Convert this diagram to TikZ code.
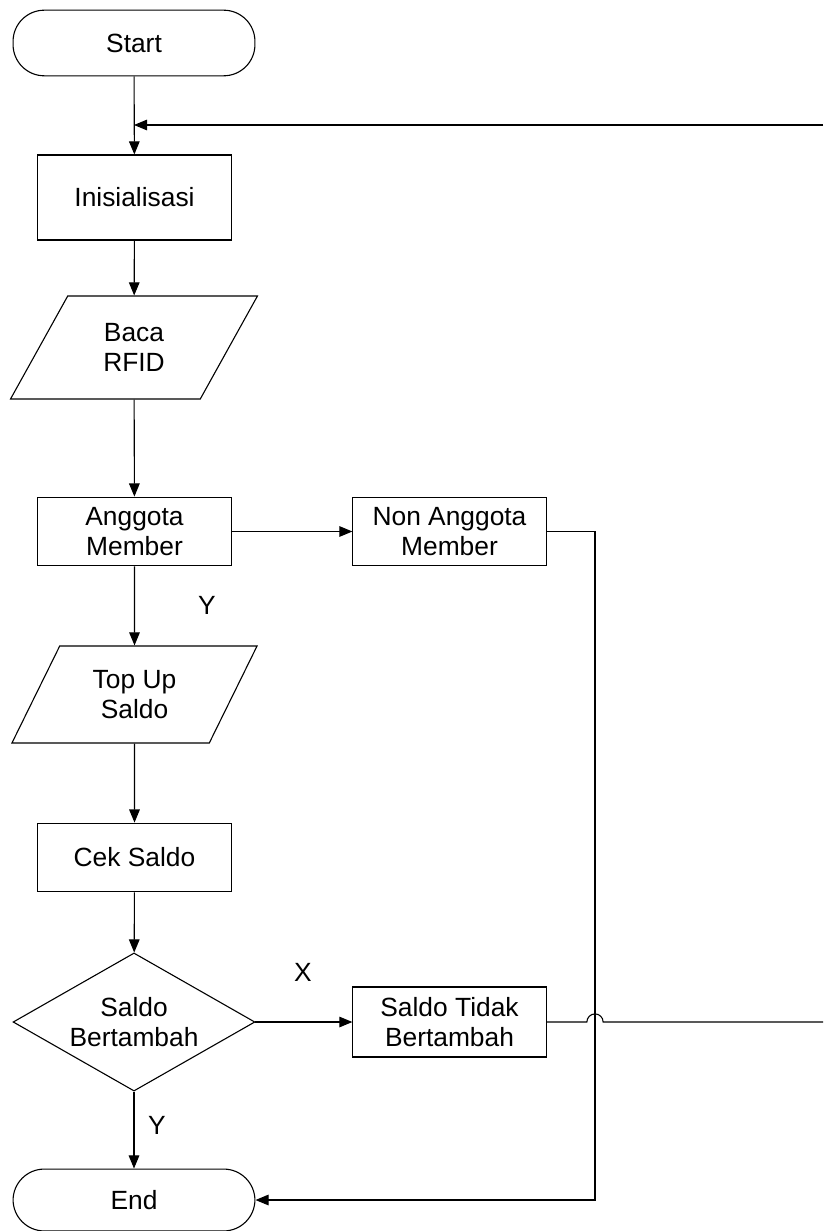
\documentclass[tikz,border=0pt]{standalone}
\usepackage{fontspec}
\setmainfont{Liberation Sans}
\usetikzlibrary{arrows.meta,shapes.geometric}

\begin{document}
\begin{tikzpicture}[
  font=\fontsize{12}{14}\selectfont,
  line width=0.5pt,
  term/.style={draw, rounded corners=0.5cm, minimum width=3.87cm, minimum height=1.05cm, align=center},
  proc/.style={draw, minimum width=3.09cm, minimum height=1.10cm, align=center},
  io/.style={draw, trapezium, trapezium left angle=61.5, trapezium right angle=118.5, trapezium stretches=true, inner sep=0pt, align=center},
  dec/.style={draw, diamond, aspect=1.75, inner sep=0pt, minimum width=3.87cm, minimum height=2.21cm, align=center},
  flow/.style={-{Triangle[length=0.21cm,width=0.17cm]}},
  lab/.style={inner sep=0pt}
]
\useasboundingbox (0,0) rectangle (13.168,-19.696);

% Main column.
\node[term] (start) at (2.144,-0.688) {Start};
\node[proc, minimum height=1.36cm] (init) at (2.152,-3.16) {Inisialisasi};
\node[io, minimum width=3.968cm, minimum height=1.648cm] (baca) at (2.144,-5.56) {Baca\\RFID};
\node[proc] (anggota) at (2.152,-8.504) {Anggota\\Member};
\node[io, minimum width=3.936cm, minimum height=1.552cm] (topup) at (2.152,-11.112) {Top Up\\Saldo};
\node[proc] (cek) at (2.152,-13.72) {Cek Saldo};
\node[dec] (cekdec) at (2.144,-16.352) {Saldo\\Bertambah};
\node[term, minimum height=0.99cm] (end) at (2.144,-19.2) {End};

% Side boxes.
\node[proc] (nonang) at (7.192,-8.504) {Non Anggota\\Member};
\node[proc, minimum height=1.12cm] (tidak) at (7.192,-16.352) {Saldo Tidak\\Bertambah};

% Labels.
\node[lab] (ylab1) at (3.312,-9.68) {Y};
\node[lab] (xlab) at (4.848,-15.552) {X};
\node[lab] (ylab2) at (2.512,-18.0) {Y};

% Loop points.
\coordinate (loopin) at (13.168,-2.0);
\coordinate (loopjoin) at (2.144,-2.0);
\coordinate (corner) at (9.52,-8.504);
\coordinate (hopl) at (9.39,-16.352);
\coordinate (loopout) at (13.168,-16.352);

\draw[flow] (start) -- (init);
\draw[flow] (loopin) -- (loopjoin);
\draw[flow] (init) -- (baca);
\draw[flow] (baca) -- (anggota);
\draw[flow] (anggota) -- (nonang);
\draw[flow] (anggota) -- (topup);
\draw[flow] (topup) -- (cek);
\draw[flow] (cek) -- (cekdec);
\draw[flow] (cekdec) -- (tidak);
\draw[flow] (cekdec) -- (end);
\draw[flow] (nonang.east) -- (corner) -- (end.east -| corner) -- (end.east);
\draw (tidak.east) -- (hopl) arc[start angle=180, end angle=0, radius=0.13] -- (loopout);
\end{tikzpicture}
\end{document}
